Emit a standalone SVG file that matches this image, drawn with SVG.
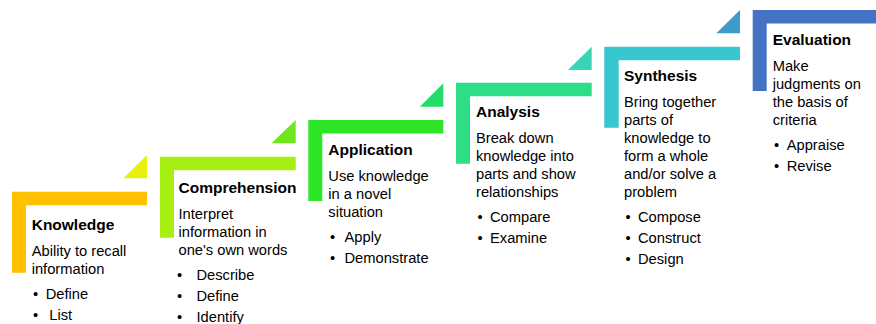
<svg xmlns="http://www.w3.org/2000/svg" width="876" height="324" viewBox="0 0 876 324">
<style>
.t{font-family:"Liberation Sans",Arial,sans-serif;font-weight:bold;font-size:15.5px;fill:#000}
.b{font-family:"Liberation Sans",Arial,sans-serif;font-size:14.7px;fill:#000}
</style>
<rect width="876" height="324" fill="#fff"/>
<g id="knowledge">
<path d="M12,191.7h135v13.5h-121v67.5h-14z" fill="#FFC000"/>
<path d="M123.3,178.3L147,155V178.3z" fill="#E9F20C"/>
<text class="t" x="31.7" y="230">Knowledge</text>
<text class="b" x="31.7" y="256">Ability to recall</text>
<text class="b" x="31.7" y="273.5">information</text>
<text class="b" x="33" y="298.5">•</text><text class="b" x="45.7" y="298.5">Define</text>
<text class="b" x="33" y="319.5">•</text><text class="b" x="49.3" y="319.5">List</text>
</g>
<g id="comprehension">
<path d="M160,156.7h135.7v13.5h-121.7v67.5h-14z" fill="#A6EF12"/>
<path d="M271.5,143.3L295.7,120V143.3z" fill="#6DE71C"/>
<text class="t" x="178.5" y="193">Comprehension</text>
<text class="b" x="178.5" y="219">Interpret</text>
<text class="b" x="178.5" y="237">information in</text>
<text class="b" x="178.5" y="255">one's own words</text>
<text class="b" x="177" y="280">•</text><text class="b" x="196.5" y="280">Describe</text>
<text class="b" x="177" y="301">•</text><text class="b" x="196.5" y="301">Define</text>
<text class="b" x="177" y="322">•</text><text class="b" x="196.5" y="322">Identify</text>
</g>
<g id="application">
<path d="M308.3,120h135v13.5h-121v67.5h-14z" fill="#2EE628"/>
<path d="M419.8,106.7L443.3,83.3V106.7z" fill="#24DC68"/>
<text class="t" x="328.3" y="155">Application</text>
<text class="b" x="328.3" y="181">Use knowledge</text>
<text class="b" x="328.3" y="199">in a novel</text>
<text class="b" x="328.3" y="217">situation</text>
<text class="b" x="330" y="242">•</text><text class="b" x="344.5" y="242">Apply</text>
<text class="b" x="330" y="263">•</text><text class="b" x="344.5" y="263">Demonstrate</text>
</g>
<g id="analysis">
<path d="M456,82.7h135.7v13.5h-121.7v67.5h-14z" fill="#2DDE86"/>
<path d="M568,70L591.7,46.7V70z" fill="#35D5B5"/>
<text class="t" x="476" y="117">Analysis</text>
<text class="b" x="476" y="143">Break down</text>
<text class="b" x="476" y="161">knowledge into</text>
<text class="b" x="476" y="179">parts and show</text>
<text class="b" x="476" y="197">relationships</text>
<text class="b" x="477.5" y="222">•</text><text class="b" x="490" y="222">Compare</text>
<text class="b" x="477.5" y="243">•</text><text class="b" x="490" y="243">Examine</text>
</g>
<g id="synthesis">
<path d="M604.3,46.7h135.7v13.5h-121.3v67.5h-14.4z" fill="#38C7CF"/>
<path d="M716.3,33.3L740,10V33.3z" fill="#3D9BCC"/>
<text class="t" x="624" y="81">Synthesis</text>
<text class="b" x="624" y="107">Bring together</text>
<text class="b" x="624" y="125">parts of</text>
<text class="b" x="624" y="143">knowledge to</text>
<text class="b" x="624" y="161">form a whole</text>
<text class="b" x="624" y="179">and/or solve a</text>
<text class="b" x="624" y="197">problem</text>
<text class="b" x="625.5" y="221.5">•</text><text class="b" x="638" y="221.5">Compose</text>
<text class="b" x="625.5" y="242.5">•</text><text class="b" x="638" y="242.5">Construct</text>
<text class="b" x="625.5" y="263.5">•</text><text class="b" x="638" y="263.5">Design</text>
</g>
<g id="evaluation">
<path d="M752.7,10H876v13.5h-109.3v67.5h-14z" fill="#4472C4"/>
<text class="t" x="772.7" y="45">Evaluation</text>
<text class="b" x="772.7" y="71">Make</text>
<text class="b" x="772.7" y="89">judgments on</text>
<text class="b" x="772.7" y="107">the basis of</text>
<text class="b" x="772.7" y="125">criteria</text>
<text class="b" x="774" y="149.5">•</text><text class="b" x="786.7" y="149.5">Appraise</text>
<text class="b" x="774" y="170.5">•</text><text class="b" x="786.7" y="170.5">Revise</text>
</g>
</svg>
